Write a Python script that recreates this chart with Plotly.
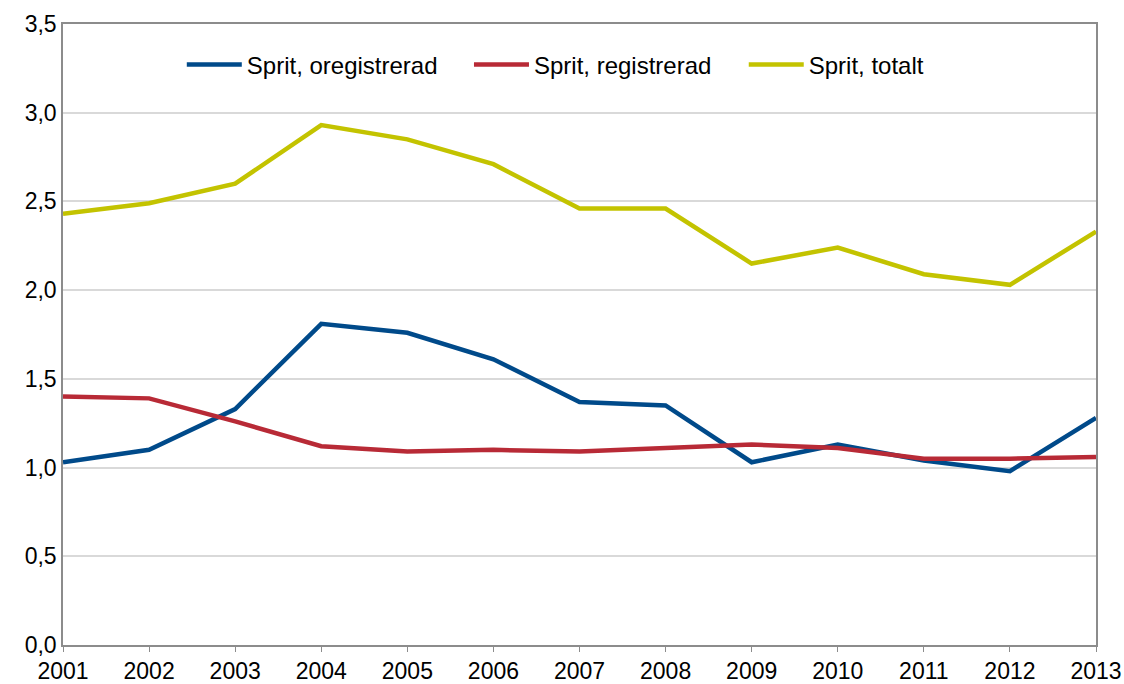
import plotly.graph_objects as go

years = [2001, 2002, 2003, 2004, 2005, 2006, 2007, 2008, 2009, 2010, 2011, 2012, 2013]
oregistrerad = [1.03, 1.10, 1.33, 1.81, 1.76, 1.61, 1.37, 1.35, 1.03, 1.13, 1.04, 0.98, 1.28]
registrerad = [1.40, 1.39, 1.26, 1.12, 1.09, 1.10, 1.09, 1.11, 1.13, 1.11, 1.05, 1.05, 1.06]
totalt = [2.43, 2.49, 2.60, 2.93, 2.85, 2.71, 2.46, 2.46, 2.15, 2.24, 2.09, 2.03, 2.33]

names = ["Sprit, oregistrerad", "Sprit, registrerad", "Sprit, totalt"]
colors = ["#004A8A", "#B82A36", "#C3C300"]
legend_ids = ["legend", "legend2", "legend3"]
legend_x = [0.115, 0.393, 0.659]

fig = go.Figure()
for name, vals, col, lg in zip(names, [oregistrerad, registrerad, totalt], colors, legend_ids):
    fig.add_trace(go.Scatter(x=years, y=vals, name=name, mode="lines", legend=lg,
                             line=dict(color=col, width=4.5)))

def leg(x):
    return dict(orientation="h", x=x, xanchor="left", y=0.934, yanchor="middle",
                font=dict(size=24), bgcolor="rgba(0,0,0,0)", itemwidth=55)

fig.update_layout(
    width=1124, height=684,
    margin=dict(l=63, r=28, t=24, b=39, autoexpand=False),
    paper_bgcolor="white", plot_bgcolor="white",
    separators=", ",
    font=dict(family="Liberation Sans, Arial, sans-serif", size=23, color="black"),
    showlegend=True,
    legend=leg(legend_x[0]), legend2=leg(legend_x[1]), legend3=leg(legend_x[2]),
    xaxis=dict(range=[2001, 2013], tickmode="array", tickvals=years,
               ticktext=[str(y) for y in years], showgrid=False, automargin=False,
               showline=True, linecolor="#8C8C8C", linewidth=1.5, mirror=True,
               ticks="outside", ticklen=5, tickcolor="#8C8C8C", zeroline=False),
    yaxis=dict(range=[0, 3.5], tickmode="array", automargin=False,
               tickvals=[0, 0.5, 1.0, 1.5, 2.0, 2.5, 3.0, 3.5],
               ticktext=["0,0", "0,5", "1,0", "1,5", "2,0", "2,5", "3,0", "3,5"],
               showgrid=True, gridcolor="#D9D9D9", gridwidth=1.5,
               showline=True, linecolor="#8C8C8C", linewidth=1.5, mirror=True,
               ticks="", zeroline=False),
)

fig.write_html("out.html", config={"displayModeBar": False},
               post_script="document.body.style.margin='0';document.body.style.overflow='hidden';")
